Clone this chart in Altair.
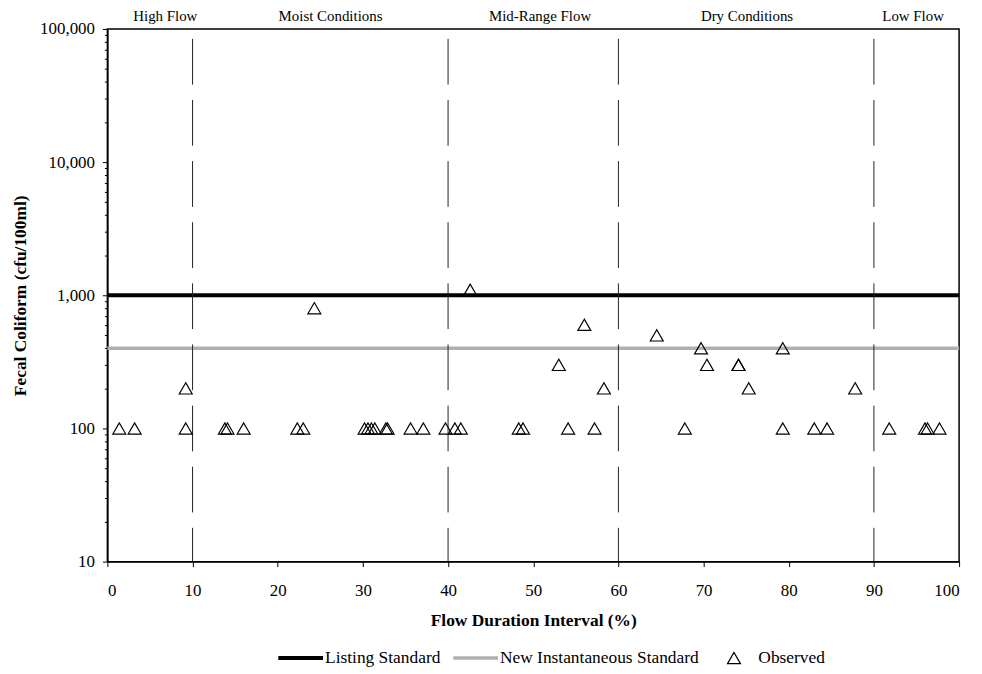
import altair as alt
import pandas as pd

# ---- data ----
obs_x = [1.4, 3.2, 9.2, 9.2, 13.8, 14.1, 16.0, 22.3, 23.0, 24.3,
         30.2, 30.6, 31.0, 31.4, 32.7, 32.9, 35.6, 37.1, 39.7, 40.8,
         41.5, 42.6, 48.3, 48.8, 53.0, 54.1, 56.0, 57.2, 58.3, 64.5,
         67.8, 69.7, 70.4, 74.1, 74.1, 75.3, 79.3, 79.3, 83.0, 84.5,
         87.8, 91.8, 96.0, 96.3, 97.7]
obs_y = [100, 100, 100, 200, 100, 100, 100, 100, 100, 800,
         100, 100, 100, 100, 100, 100, 100, 100, 100, 100,
         100, 1100, 100, 100, 300, 100, 600, 100, 200, 500,
         100, 400, 300, 300, 300, 200, 400, 100, 100, 100,
         200, 100, 100, 100, 100]

series_names = ["Listing Standard", "New Instantaneous Standard", "Observed"]
series_colors = ["#000000", "#b0b0b0", "#000000"]
series_shapes = ["stroke", "stroke", "triangle-up"]
series_sizes = [2025, 2025, 170]
series_widths = [4, 3.5, 1.2]

std_values = [1000, 400]

zone_names = ["High Flow", "Moist Conditions", "Mid-Range Flow", "Dry Conditions", "Low Flow"]
zone_label_x = [6.8, 26.2, 50.8, 75.1, 94.6]
zone_bounds = [10, 40, 60, 90]

x_ticks = list(range(0, 101, 10))
y_major = [10, 100, 1000, 10000, 100000]
y_ticks = [m * d for d in (10, 100, 1000, 10000) for m in range(1, 10)] + [100000]

FONT = "Liberation Serif"

# ---- tables ----
obs_df = pd.DataFrame({"x": obs_x, "y": obs_y, "series": "Observed"})
std_df = pd.DataFrame({"y": std_values, "series": series_names[:2]})
zone_df = pd.DataFrame({"x": zone_label_x, "y": y_major[-1], "label": zone_names})
bound_df = pd.DataFrame({"x": zone_bounds})

major_list = "[" + ",".join(str(v) for v in y_major) + "]"
is_major = f"indexof({major_list}, datum.value) >= 0"

x_enc = alt.X(
    "x:Q",
    scale=alt.Scale(domain=[0, 100], nice=False, zero=False),
    axis=alt.Axis(
        values=x_ticks, title="Flow Duration Interval (%)", tickSize=5,
        labelPadding=16, titlePadding=13, labelFontSize=17,
        titleFontSize=17.5, titleFontWeight="bold",
    ),
)
y_enc = alt.Y(
    "y:Q",
    scale=alt.Scale(type="log", domain=[10, 100000], nice=False),
    axis=alt.Axis(
        values=y_ticks,
        labelExpr=f"{is_major} ? format(datum.value, ',') : ''",
        tickSize={"condition": {"test": is_major, "value": 5}, "value": 3},
        labelPadding=8, title="Fecal Coliform (cfu/100ml)", titlePadding=10,
        labelFontSize=17, titleFontSize=17.5, titleFontWeight="bold",
    ),
)

legend = alt.Legend(
    title=None, orient="none", direction="horizontal", columns=3,
    legendX=170, legendY=622, clipHeight=22,
    labelFont=FONT, labelFontSize=17.5, labelColor="black", labelOffset=0,
    labelLimit=500, columnPadding=10,
)
color_enc = alt.Color("series:N", scale=alt.Scale(domain=series_names, range=series_colors), legend=legend)
width_enc = alt.StrokeWidth("series:N", scale=alt.Scale(type="ordinal", domain=series_names, range=series_widths), legend=legend)
shape_enc = alt.Shape("series:N", scale=alt.Scale(domain=series_names, range=series_shapes), legend=legend)
size_enc = alt.Size("series:N", scale=alt.Scale(type="ordinal", domain=series_names, range=series_sizes), legend=legend)

std_layer = alt.Chart(std_df).mark_rule().encode(y=y_enc, color=color_enc, strokeWidth=width_enc)

bound_layer = alt.Chart(bound_df).mark_rule(
    color="#222222", strokeWidth=1, strokeDash=[46, 15.5], strokeDashOffset=51.5
).encode(x=x_enc)

obs_layer = alt.Chart(obs_df).mark_point(filled=False, opacity=1).encode(
    x=x_enc, y=y_enc, color=color_enc, shape=shape_enc, size=size_enc, strokeWidth=width_enc
)

zone_layer = alt.Chart(zone_df).mark_text(
    dy=-13, font=FONT, fontSize=15, baseline="middle", align="center", color="black"
).encode(x=x_enc, y=y_enc, text="label:N")

chart = alt.layer(std_layer, bound_layer, obs_layer, zone_layer).properties(
    width=857, height=536,
    autosize=alt.AutoSizeParams(type="none"),
    padding={"left": 100, "top": 19, "right": 15, "bottom": 110},
).configure_view(
    stroke="black", strokeWidth=1.5
).configure_axis(
    grid=False, domainColor="black", domainWidth=1.5, tickColor="black",
    labelFont=FONT, titleFont=FONT, labelColor="black", titleColor="black",
).configure_legend(
    labelFont=FONT, labelFontSize=17.5, labelColor="black", labelLimit=500,
)

chart.save("out.html", embed_options={"renderer": "svg", "actions": False})
